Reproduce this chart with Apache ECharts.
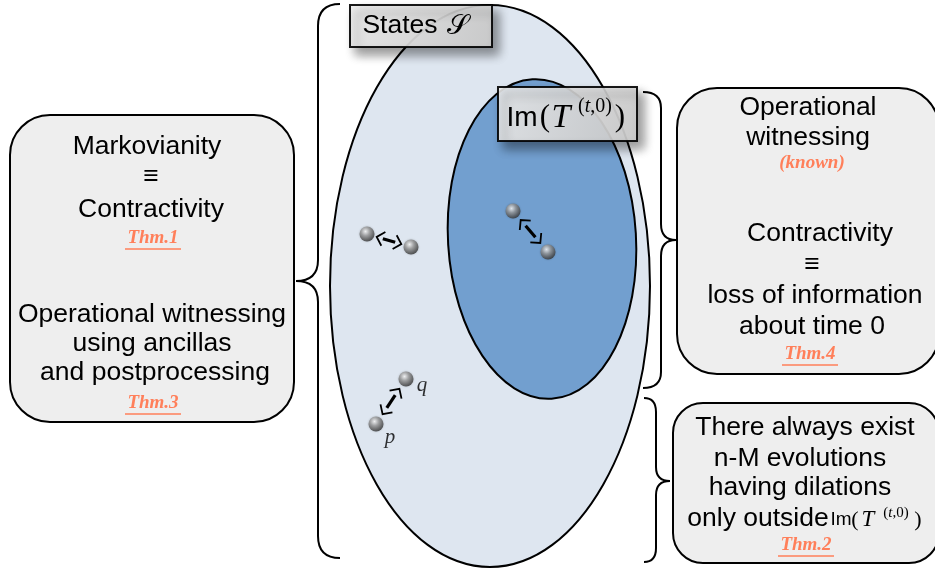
<!DOCTYPE html>
<html><head><meta charset="utf-8">
<script src="https://cdn.jsdelivr.net/npm/echarts@6/dist/echarts.min.js"></script>
<style>html,body{margin:0;padding:0;background:#fff}#c{width:935px;height:569px}</style>
</head><body><div id="c"></div><script>
// ---- data ----
const pointX = [367, 411, 513, 548, 406, 376];
const pointY = [234, 247, 211, 252, 379, 424];
const pointNames = ['', '', '', '', 'q', 'p'];
const arrowPairs = [[0, 1], [2, 3], [4, 5]];
const leftLines = ['Markovianity', '≡', 'Contractivity', 'Thm.1', 'Operational witnessing', 'using ancillas', 'and postprocessing', 'Thm.3'];
const rightTopLines = ['Operational', 'witnessing', '(known)', 'Contractivity', '≡', 'loss of information', 'about time 0', 'Thm.4'];
const rightBottomLines = ['There always exist', 'n-M evolutions', 'having dilations', 'only outside', 'Thm.2'];
const statesLabel = 'States';

// ---- styles ----
const SANS = '"Liberation Sans", Arial, "DejaVu Sans", sans-serif';
const SERIF = '"Liberation Serif", "DejaVu Serif", serif';
const ORANGE = '#ff7f5a';
const isThm = s => /^Thm\./.test(s);
const isNote = s => /^\(/.test(s);

function txt(text, x, y, font, fill, align, z) {
  return { type: 'text', z: z || 6, style: { text, x, y, font, fill: fill || '#000', align: align || 'center', verticalAlign: 'middle', textAlign: align || 'center', textVerticalAlign: 'middle' } };
}
function line(x1, y1, x2, y2, color, w, z) {
  return { type: 'line', z: z || 6, shape: { x1, y1, x2, y2 }, style: { stroke: color, lineWidth: w } };
}
function quad(x1, y1, cx, cy, x2, y2) {
  return { type: 'bezierCurve', z: 4, shape: { x1, y1, x2, y2, cpx1: cx, cpy1: cy }, style: { stroke: '#000', lineWidth: 2, fill: null } };
}
function styledLine(s, x, y) {
  const out = [];
  if (isThm(s)) {
    out.push(txt(s, x, y, 'italic bold 19px ' + SERIF, ORANGE));
    out.push(line(x - 28, y + 11, x + 28, y + 11, ORANGE, 1.6));
  } else if (isNote(s)) {
    out.push(txt(s, x, y, 'italic bold 19px ' + SERIF, ORANGE));
  } else {
    out.push(txt(s, x, y, '26.5px ' + SANS, '#000'));
  }
  return out;
}
function brace(xEnd, xLine, xTip, yTop, yMid, yBot, r, rm) {
  return [
    quad(xEnd, yTop, xLine, yTop, xLine, yTop + r),
    line(xLine, yTop + r, xLine, yMid - rm, '#000', 2, 4),
    quad(xLine, yMid - rm, xLine, yMid, xTip, yMid),
    quad(xTip, yMid, xLine, yMid, xLine, yMid + rm),
    line(xLine, yMid + rm, xLine, yBot - r, '#000', 2, 4),
    quad(xLine, yBot - r, xLine, yBot, xEnd, yBot)
  ];
}
// Im(T^(t,0)) built from pieces
function imT(y, p) {
  return [
    txt('Im', p.im, y, p.fIm + 'px ' + SANS, '#000', 'center', 8),
    txt('(', p.lp, y, p.fP + 'px ' + SERIF, '#000', 'center', 8),
    txt('T', p.T, y, 'italic ' + p.fT + 'px ' + SERIF, '#000', 'center', 8),
    { type: 'text', z: 8, style: { text: '({i|t},0)', x: p.sup, y: y - p.dy, font: p.fS + 'px ' + SERIF, fill: '#000', align: 'center', verticalAlign: 'middle', rich: { i: { fontStyle: 'italic', fontFamily: SERIF, fontSize: p.fS } } } },
    txt(')', p.rp, y, p.fP + 'px ' + SERIF, '#000', 'center', 8)
  ];
}
const labelFill = { type: 'linear', x: 0, y: 0, x2: 1, y2: 1, colorStops: [{ offset: 0, color: '#efefef' }, { offset: 1, color: '#d0d0d0' }] };

const leftY = [147, 177, 210, 238, 315, 344, 373, 403];
const leftX = [147, 151, 151, 153, 152, 152, 155, 153];
const rtY = [108, 138, 163, 234, 265, 296, 327, 354];
const rtX = [808, 808, 812, 820, 812, 815, 812, 810];
const rbY = [428, 459, 488, 519, 545];
const rbX = [805, 800, 800, 758, 806];

const graphics = [
  // ellipses
  { type: 'ellipse', z: 1, shape: { cx: 490, cy: 286, rx: 160, ry: 281 }, style: { fill: '#dee6f0', stroke: '#000', lineWidth: 2 } },
  { type: 'ellipse', z: 2, x: 542, y: 239, rotation: 0.06, shape: { cx: 0, cy: 0, rx: 94, ry: 160 }, style: { fill: '#729fcf', stroke: '#000', lineWidth: 2 } },
  // main boxes
  { type: 'rect', z: 3, shape: { x: 10, y: 115, width: 284, height: 307, r: 40 }, style: { fill: '#eeeeee', stroke: '#000', lineWidth: 2 } },
  { type: 'rect', z: 3, shape: { x: 677, y: 88, width: 262, height: 286, r: 40 }, style: { fill: '#eeeeee', stroke: '#000', lineWidth: 2 } },
  { type: 'rect', z: 3, shape: { x: 673, y: 403, width: 266, height: 160, r: 30 }, style: { fill: '#eeeeee', stroke: '#000', lineWidth: 2 } },
  // label boxes
  { type: 'rect', z: 7, shape: { x: 350, y: 5, width: 142, height: 42 }, style: { fill: labelFill, opacity: 0.9, stroke: '#000', lineWidth: 2, shadowBlur: 10, shadowOffsetX: 6, shadowOffsetY: 7, shadowColor: 'rgba(0,0,0,0.45)' } },
  { type: 'rect', z: 7, shape: { x: 498, y: 87, width: 139, height: 54 }, style: { fill: labelFill, opacity: 0.9, stroke: '#000', lineWidth: 2, shadowBlur: 10, shadowOffsetX: 6, shadowOffsetY: 7, shadowColor: 'rgba(0,0,0,0.45)' } },
  txt(statesLabel, 400, 26, '26.5px ' + SANS, '#000', 'center', 8),
  txt('𝒮', 458, 27, '28px ' + SERIF, '#000', 'center', 8)
];
brace(340, 318, 296, 4, 281, 558, 22, 21).forEach(g => graphics.push(g));
brace(643, 661, 676, 92, 240, 388, 16, 16).forEach(g => graphics.push(g));
brace(644, 656, 670, 398, 481, 562, 14, 14).forEach(g => graphics.push(g));
imT(118, { im: 522, lp: 545, T: 561, sup: 595, rp: 620, fIm: 28, fP: 31, fT: 34, fS: 20, dy: 11 }).forEach(g => graphics.push(g));
leftLines.forEach((s, i) => styledLine(s, leftX[i], leftY[i]).forEach(g => graphics.push(g)));
rightTopLines.forEach((s, i) => styledLine(s, rtX[i], rtY[i]).forEach(g => graphics.push(g)));
rightBottomLines.forEach((s, i) => styledLine(s, rbX[i], rbY[i]).forEach(g => graphics.push(g)));
imT(520, { im: 841, lp: 855, T: 868, sup: 896, rp: 918, fIm: 19, fP: 22, fT: 23, fS: 15, dy: 7 }).forEach(g => graphics.push(g));

const sphere = { type: 'radial', x: 0.4, y: 0.33, r: 0.72, colorStops: [{ offset: 0, color: '#ffffff' }, { offset: 0.4, color: '#9a9a9a' }, { offset: 1, color: '#2a2a2a' }] };
const labelOffsets = { q: [16, 6], p: [14, 13] };

const chart = echarts.init(document.getElementById('c'), null, { renderer: 'canvas' });
chart.setOption({
  animation: false,
  grid: { left: 0, right: 0, top: 0, bottom: 0 },
  xAxis: { type: 'value', min: 0, max: 935, show: false },
  yAxis: { type: 'value', min: 0, max: 569, inverse: true, show: false },
  graphic: graphics,
  series: [
    {
      type: 'custom', z: 5, clip: false, silent: true,
      encode: { x: [0, 2], y: [1, 3] },
      data: arrowPairs.map(([i, j]) => [pointX[i], pointY[i], pointX[j], pointY[j]]),
      renderItem(params, api) {
        const a = api.coord([api.value(0), api.value(1)]);
        const b = api.coord([api.value(2), api.value(3)]);
        const dx = b[0] - a[0], dy = b[1] - a[1], L = Math.hypot(dx, dy);
        const ux = dx / L, uy = dy / L, nx = -uy, ny = ux;
        const P = t => [a[0] + dx * t, a[1] + dy * t];
        const arm = 10, c = Math.cos(0.8), s = Math.sin(0.8);
        const chev = (t, dir) => {
          const T = P(t);
          return [[T[0] + dir * ux * arm * c + nx * arm * s, T[1] + dir * uy * arm * c + ny * arm * s], T,
                  [T[0] + dir * ux * arm * c - nx * arm * s, T[1] + dir * uy * arm * c - ny * arm * s]];
        };
        const p1 = P(0.36), p2 = P(0.64);
        return { type: 'group', children: [
          { type: 'line', shape: { x1: p1[0], y1: p1[1], x2: p2[0], y2: p2[1] }, style: { stroke: '#000', lineWidth: 3.2 } },
          { type: 'polyline', shape: { points: chev(0.22, 1) }, style: { stroke: '#000', lineWidth: 1.8, fill: null } },
          { type: 'polyline', shape: { points: chev(0.78, -1) }, style: { stroke: '#000', lineWidth: 1.8, fill: null } }
        ] };
      }
    },
    {
      type: 'scatter', z: 6, silent: true, symbol: 'circle', symbolSize: 15,
      itemStyle: { color: sphere, shadowBlur: 2, shadowColor: 'rgba(0,0,0,0.3)' },
      data: pointX.map((x, i) => ({
        name: pointNames[i], value: [x, pointY[i]],
        label: { show: !!pointNames[i], formatter: '{b}', position: 'inside', offset: labelOffsets[pointNames[i]] || [0, 0], color: '#000', fontFamily: SERIF, fontStyle: 'italic', fontSize: 21 }
      }))
    }
  ]
});
</script></body></html>
